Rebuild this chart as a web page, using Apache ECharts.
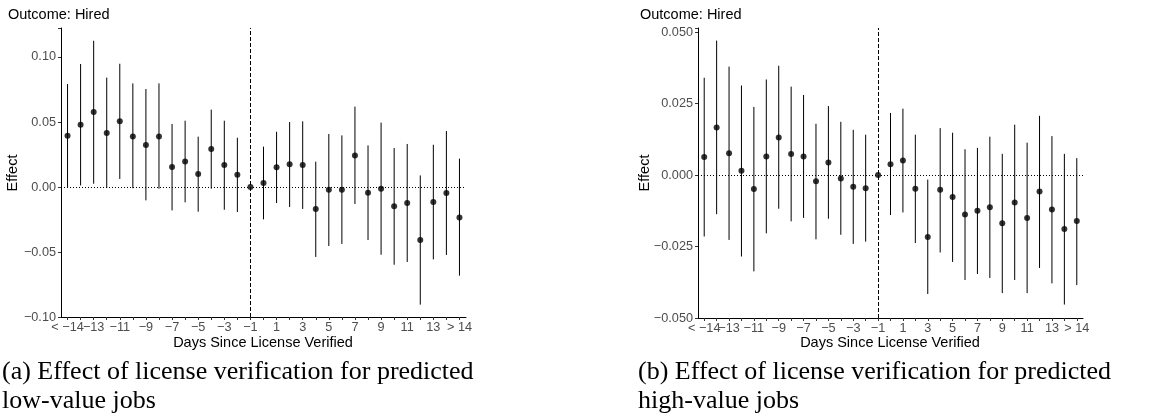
<!DOCTYPE html>
<html>
<head>
<meta charset="utf-8">
<script src="https://cdn.jsdelivr.net/npm/echarts@6/dist/echarts.min.js"></script>
<style>
  html, body { margin: 0; padding: 0; background: #fff; }
  #chart { width: 1162px; height: 418px; }
</style>
</head>
<body>
<div id="chart"></div>
<script>
// days since license verified (x categories)
var days = ['< −14', '−14', '−13', '−12', '−11', '−10', '−9', '−8', '−7', '−6', '−5', '−4', '−3', '−2', '−1',
  '0', '1', '2', '3', '4', '5', '6', '7', '8', '9', '10', '11', '12', '13', '14', '> 14'];

// (a) low-value jobs: estimate, lower and upper CI
var lowEst = [0.0395, 0.0479, 0.0577, 0.0415, 0.0505, 0.0389, 0.0323, 0.0389, 0.0154, 0.0197, 0.0100, 0.0292, 0.0169, 0.0095, 0,
  0.0031, 0.0151, 0.0174, 0.0169, -0.0169, -0.0021, -0.0021, 0.0243, -0.0044, -0.0013, -0.0149, -0.0123, -0.0408, -0.0115, -0.0046, -0.0234];
var lowLo = [-0.0002, 0.0012, 0.0025, -0.0008, 0.0062, -0.0010, -0.0103, -0.0013, -0.0180, -0.0118, -0.0190, -0.0013, -0.0175, -0.0192, null,
  -0.0249, -0.0123, -0.0154, -0.0169, -0.0538, -0.0454, -0.0438, -0.0131, -0.0408, -0.0521, -0.0598, -0.0577, -0.0905, -0.0557, -0.0523, -0.0682];
var lowHi = [0.0792, 0.0946, 0.1125, 0.0841, 0.0948, 0.0797, 0.0754, 0.0797, 0.0485, 0.0510, 0.0387, 0.0595, 0.0510, 0.0379, null,
  0.0310, 0.0425, 0.0500, 0.0505, 0.0195, 0.0408, 0.0397, 0.0618, 0.0320, 0.0495, 0.0300, 0.0331, 0.0089, 0.0325, 0.0431, 0.0218];

// (b) high-value jobs
var highEst = [0.0063, 0.0166, 0.0076, 0.0015, -0.0049, 0.0065, 0.0131, 0.0073, 0.0065, -0.0022, 0.0044, -0.0012, -0.0041, -0.0046, 0,
  0.0038, 0.0051, -0.0048, -0.0217, -0.0052, -0.0077, -0.0138, -0.0125, -0.0113, -0.0169, -0.0096, -0.0150, -0.0058, -0.0121, -0.0189, -0.0161];
var highLo = [-0.0215, -0.0137, -0.0227, -0.0285, -0.0337, -0.0204, -0.0118, -0.0162, -0.0150, -0.0225, -0.0153, -0.0209, -0.0241, -0.0233, null,
  -0.0140, -0.0131, -0.0238, -0.0416, -0.0271, -0.0304, -0.0367, -0.0346, -0.0360, -0.0413, -0.0367, -0.0413, -0.0325, -0.0379, -0.0453, -0.0385];
var highHi = [0.0340, 0.0470, 0.0379, 0.0313, 0.0238, 0.0334, 0.0382, 0.0309, 0.0280, 0.0179, 0.0241, 0.0186, 0.0158, 0.0141, null,
  0.0217, 0.0232, 0.0141, -0.0016, 0.0164, 0.0148, 0.0090, 0.0095, 0.0134, 0.0074, 0.0176, 0.0113, 0.0207, 0.0136, 0.0074, 0.0059];

var myChart = echarts.init(document.getElementById('chart'), null, { renderer: 'canvas' });

var sans = 'Liberation Sans, Arial, Helvetica, sans-serif';
var serif = 'Liberation Serif, Times New Roman, serif';

function fmt(step, dec) {
  return function (v) {
    if (Math.abs(v / step - Math.round(v / step)) > 1e-6) return '';
    var s = (Math.round(v / step) * step).toFixed(dec);
    return s.replace('-', '−');
  };
}

// labels sit on every other category; they are split over two stacked axes
// so that "< −14" and "−13" can overlap like in the original
function xAxisFor(gi, phase, main) {
  return {
    type: 'category',
    gridIndex: gi,
    position: 'bottom',
    offset: 0,
    data: days,
    boundaryGap: true,
    axisLine: { show: main, onZero: false, lineStyle: { color: '#000', width: 1 } },
    axisTick: { show: main, interval: 0, alignWithLabel: true, length: 3, lineStyle: { color: '#333' } },
    axisLabel: {
      interval: function (idx) { return idx % 4 === phase; },
      showMinLabel: true, showMaxLabel: true, hideOverlap: false,
      color: '#4d4d4d', fontSize: 12.7, fontFamily: sans, margin: 4
    },
    splitLine: { show: false }
  };
}

function yAxisFor(gi, min, max, step, dec) {
  return {
    type: 'value',
    gridIndex: gi,
    min: min,
    max: max,
    interval: step,
    axisLine: { show: true, lineStyle: { color: '#000', width: 1 } },
    axisTick: { show: true, length: 3, lineStyle: { color: '#333' } },
    axisLabel: { color: '#4d4d4d', fontSize: 12.7, fontFamily: sans, margin: 5, formatter: fmt(step, dec) },
    splitLine: { show: false }
  };
}

function barsSeries(gi, lo, hi) {
  var data = [];
  for (var i = 0; i < days.length; i++) {
    if (lo[i] !== null) data.push([i, lo[i], hi[i]]);
  }
  return {
    type: 'custom',
    xAxisIndex: gi,
    yAxisIndex: gi,
    data: data,
    silent: true,
    renderItem: function (params, api) {
      var a = api.coord([api.value(0), api.value(1)]);
      var b = api.coord([api.value(0), api.value(2)]);
      return {
        type: 'line',
        shape: { x1: a[0], y1: a[1], x2: b[0], y2: b[1] },
        style: { stroke: '#000', lineWidth: 1 }
      };
    },
    z: 3
  };
}

function pointSeries(gi, est) {
  return {
    type: 'scatter',
    xAxisIndex: gi,
    yAxisIndex: gi,
    data: est,
    symbol: 'circle',
    symbolSize: 6,
    itemStyle: { color: '#000' },
    silent: true,
    z: 4,
    markLine: {
      silent: true,
      symbol: 'none',
      label: { show: false },
      data: [
        { yAxis: 0, lineStyle: { type: [1, 2], color: '#000', width: 1 } },
        { xAxis: '−1', lineStyle: { type: [4, 2], color: '#000', width: 1 } }
      ]
    }
  };
}

function txt(x, y, s, opt) {
  return {
    type: 'text', x: x, y: y,
    style: Object.assign({ text: s, fill: '#000', font: '14.5px ' + sans, align: 'left', verticalAlign: 'middle' }, opt || {})
  };
}

var option = {
  animation: false,
  backgroundColor: '#fff',
  grid: [
    { left: 61, top: 28, width: 405, height: 289 },
    { left: 698, top: 28, width: 385, height: 290 }
  ],
  xAxis: [xAxisFor(0, 0, true), xAxisFor(1, 0, true), xAxisFor(0, 2, false), xAxisFor(1, 2, false)],
  yAxis: [
    yAxisFor(0, -0.1, 0.1223, 0.05, 2),
    yAxisFor(1, -0.05, 0.0514, 0.025, 3)
  ],
  series: [
    barsSeries(0, lowLo, lowHi),
    pointSeries(0, lowEst),
    barsSeries(1, highLo, highHi),
    pointSeries(1, highEst)
  ],
  graphic: [
    txt(8, 15, 'Outcome: Hired'),
    txt(640, 15, 'Outcome: Hired'),
    { type: 'text', x: 13, y: 173, rotation: Math.PI / 2,
      style: { text: 'Effect', fill: '#000', font: '14.5px ' + sans, align: 'center', verticalAlign: 'middle' } },
    { type: 'text', x: 645, y: 173, rotation: Math.PI / 2,
      style: { text: 'Effect', fill: '#000', font: '14.5px ' + sans, align: 'center', verticalAlign: 'middle' } },
    txt(263, 343, 'Days Since License Verified', { align: 'center' }),
    txt(890, 343, 'Days Since License Verified', { align: 'center' }),
    txt(2, 372, '(a) Effect of license verification for predicted', { font: '26px ' + serif }),
    txt(2, 401, 'low-value jobs', { font: '26px ' + serif }),
    txt(638, 372, '(b) Effect of license verification for predicted', { font: '26px ' + serif }),
    txt(638, 401, 'high-value jobs', { font: '26px ' + serif })
  ]
};

myChart.setOption(option);
</script>
</body>
</html>
